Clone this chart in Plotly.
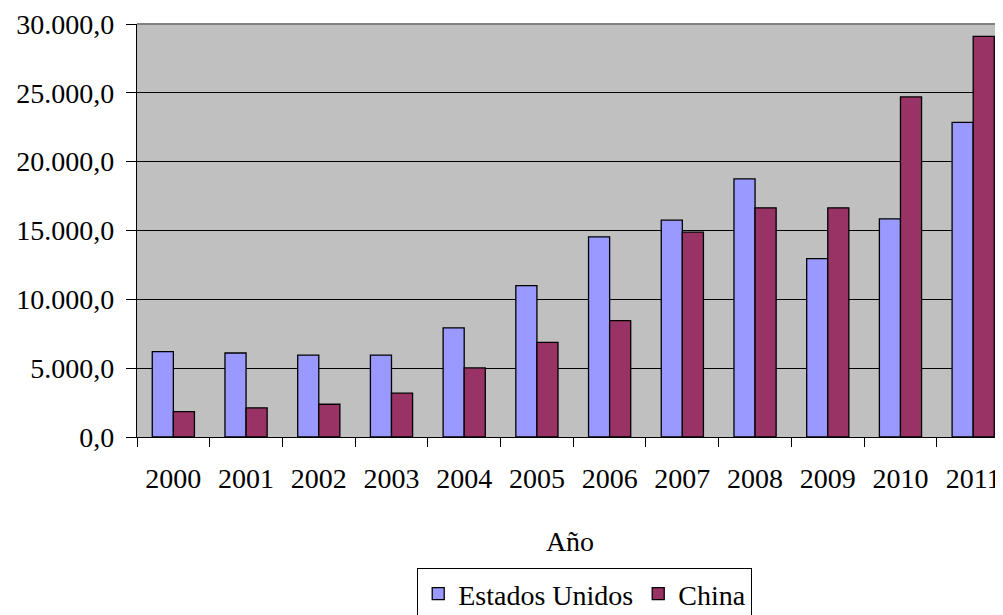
import plotly.graph_objects as go

years = ["2000", "2001", "2002", "2003", "2004", "2005", "2006", "2007", "2008", "2009", "2010", "2011"]
estados_unidos = [6200, 6100, 5950, 5950, 7930, 11000, 14540, 15750, 18750, 12960, 15850, 22860]
china = [1850, 2120, 2380, 3180, 5020, 6880, 8460, 14880, 16650, 16650, 24700, 29100]

font_family = "Liberation Serif, Times New Roman, serif"

fig = go.Figure()
fig.add_trace(go.Bar(x=years, y=estados_unidos, name="Estados Unidos",
                     marker=dict(color="#9999FF", line=dict(color="black", width=1.3))))
fig.add_trace(go.Bar(x=years, y=china, name="China",
                     marker=dict(color="#993366", line=dict(color="black", width=1.3))))

# page body has an 8px default margin; the figure is sized to compensate
fig.update_layout(
    width=995, height=607,
    margin=dict(l=129, r=0, t=16, b=178, autoexpand=False),
    paper_bgcolor="white", plot_bgcolor="#C0C0C0",
    separators=",.",
    barmode="group", bargap=0.42, bargroupgap=0,
    font=dict(family=font_family, size=28, color="black"),
    showlegend=True,
    legend=dict(orientation="h", x=0.517, xanchor="center", y=-0.317, yanchor="top",
                bgcolor="white", bordercolor="black", borderwidth=1,
                font=dict(size=28), itemwidth=30, traceorder="normal"),
)
fig.update_xaxes(
    type="category", range=[-0.5, 11.41], automargin=False,
    showline=True, linecolor="black", linewidth=1.3,
    ticks="outside", ticklen=9, tickcolor="black", tickwidth=1.3,
    tickson="boundaries", showgrid=False,
    ticklabelstandoff=16,
    title=dict(text="Año", standoff=38, font=dict(size=28)),
)
fig.update_yaxes(
    range=[0, 30000], dtick=5000, tickformat=",.1f", automargin=False,
    showline=True, linecolor="black", linewidth=1.3,
    ticks="outside", ticklen=10, tickcolor="black", tickwidth=1.3,
    showgrid=True, gridcolor="black", gridwidth=1.3,
    zeroline=False, ticklabelstandoff=6,
)
fig.add_shape(type="line", xref="paper", yref="paper", x0=0, x1=1, y0=1, y1=1,
              line=dict(color="#808080", width=2), layer="above")

fig.write_html("out.html")
